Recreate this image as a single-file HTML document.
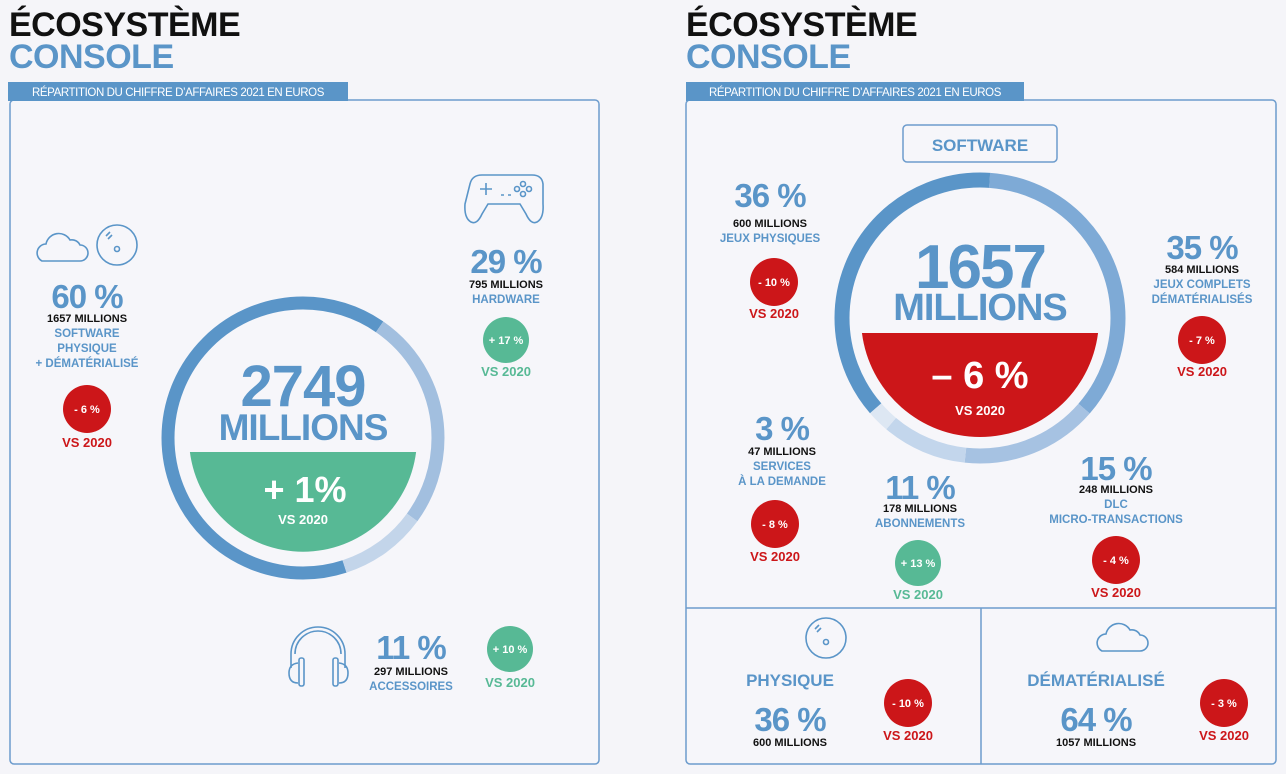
<!DOCTYPE html>
<html><head><meta charset="utf-8"><style>
html,body{margin:0;padding:0;background:#f5f5f9;}
svg{display:block;font-family:"Liberation Sans",sans-serif;font-weight:bold;}
</style></head><body>
<svg width="1286" height="774" viewBox="0 0 1286 774" xmlns="http://www.w3.org/2000/svg">
<rect width="1286" height="774" fill="#f5f5f9"/>
<!-- LEFT -->
<text x="9" y="36" font-size="34" fill="#111" letter-spacing="-0.5">ÉCOSYSTÈME</text>
<text x="9" y="68" font-size="34" fill="#5a95c8" letter-spacing="-0.5">CONSOLE</text>
<rect x="10" y="100" width="589" height="664" rx="4" fill="#f6f6fa" stroke="#6d9ccd" stroke-width="1.5"/>
<rect x="8" y="82" width="340" height="19" fill="#5a95c8"/>
<text x="178" y="96" font-size="11.5" font-weight="normal" fill="#fff" text-anchor="middle" letter-spacing="-0.4">RÉPARTITION DU CHIFFRE D’AFFAIRES 2021 EN EUROS</text>

<g fill="none" stroke-width="13" transform="rotate(-90 303 438)">
<circle cx="303" cy="438" r="135" stroke="#5a95c8" stroke-dasharray="548 300.23" stroke-dashoffset="-381.7"/>
<circle cx="303" cy="438" r="135" stroke="#a2bfdf" stroke-dasharray="215.4 632.83" stroke-dashoffset="-81.5"/>
<circle cx="303" cy="438" r="135" stroke="#c3d5ea" stroke-dasharray="84.8 763.43" stroke-dashoffset="-296.9"/>
</g>
<path d="M189.9,452 L416.1,452 A114,114 0 0 1 189.9,452 Z" fill="#57b995"/>
<g text-anchor="middle">
<text x="303" y="406" font-size="58" fill="#5a95c8" letter-spacing="-1">2749</text>
<text x="303" y="440" font-size="37" fill="#5a95c8" letter-spacing="-1">MILLIONS</text>
<text x="305" y="502" font-size="36" fill="#fff">+ 1%</text>
<text x="303" y="524" font-size="13" fill="#fff">VS 2020</text>

<text x="87" y="308" font-size="33" fill="#5a95c8" letter-spacing="-1">60 %</text>
<text x="87" y="322" font-size="11" fill="#111">1657 MILLIONS</text>
<text x="87" y="337" font-size="11.5" fill="#5a95c8">SOFTWARE</text>
<text x="87" y="352" font-size="11.5" fill="#5a95c8">PHYSIQUE</text>
<text x="87" y="367" font-size="11.5" fill="#5a95c8">+ DÉMATÉRIALISÉ</text>
<circle cx="87" cy="409" r="24" fill="#cc1619"/>
<text x="87" y="413" font-size="11" fill="#fff">- 6 %</text>
<text x="87" y="447" font-size="13" fill="#cc1619">VS 2020</text>

<text x="506" y="273" font-size="33" fill="#5a95c8" letter-spacing="-1">29 %</text>
<text x="506" y="288" font-size="11" fill="#111">795 MILLIONS</text>
<text x="506" y="303" font-size="11.5" fill="#5a95c8">HARDWARE</text>
<circle cx="506" cy="340" r="23" fill="#57b995"/>
<text x="506" y="344" font-size="11" fill="#fff">+ 17 %</text>
<text x="506" y="376" font-size="13" fill="#57b995">VS 2020</text>

<text x="411" y="659" font-size="33" fill="#5a95c8" letter-spacing="-1">11 %</text>
<text x="411" y="675" font-size="11" fill="#111">297 MILLIONS</text>
<text x="411" y="690" font-size="11.5" fill="#5a95c8">ACCESSOIRES</text>
<circle cx="510" cy="649" r="23" fill="#57b995"/>
<text x="510" y="653" font-size="11" fill="#fff">+ 10 %</text>
<text x="510" y="687" font-size="13" fill="#57b995">VS 2020</text>
</g>
<!-- icons left -->
<g fill="none" stroke="#5a95c8" stroke-width="1.6">
<path d="M42,261 h38 a8,8 0 0 0 0,-16 a9,9 0 0 0 -10,-5 a13,13 0 0 0 -24,4 a9,9 0 0 0 -4,17 z"/>
<circle cx="117" cy="245" r="20"/><circle cx="117" cy="249" r="2.5"/>
<path d="M106,236 l4,-4 M108,239 l4,-4"/>
<path d="M470,184 q2,-9 12,-9 h50 q10,0 11,9 v20 q1,14 -6,18 q-6,3 -11,-8 l-6,-10 h-32 l-6,10 q-5,11 -11,8 q-7,-4 -6,-18 z"/>
<path d="M486,183 v12 M480,189 h12"/>
<path d="M501,195 h3 M508,195 h3"/>
<circle cx="523" cy="184" r="2.5"/><circle cx="529" cy="189" r="2.5"/><circle cx="523" cy="194" r="2.5"/><circle cx="517" cy="189" r="2.5"/>
<path d="M291,668 v-14 a27,27 0 0 1 54,0 v14"/>
<path d="M295,654 a23,23 0 0 1 46,0"/>
<rect x="299" y="658" width="5" height="28" rx="2"/><rect x="333" y="658" width="5" height="28" rx="2"/>
<path d="M298,663 q-9,1 -9,10 q0,10 9,10 M339,663 q9,1 9,10 q0,10 -9,10"/>
</g>

<!-- RIGHT -->
<text x="686" y="36" font-size="34" fill="#111" letter-spacing="-0.5">ÉCOSYSTÈME</text>
<text x="686" y="68" font-size="34" fill="#5a95c8" letter-spacing="-0.5">CONSOLE</text>
<rect x="686" y="100" width="590" height="664" rx="4" fill="#f6f6fa" stroke="#6d9ccd" stroke-width="1.5"/>
<line x1="686" y1="608" x2="1276" y2="608" stroke="#6d9ccd" stroke-width="1.5"/>
<line x1="981" y1="608" x2="981" y2="764" stroke="#6d9ccd" stroke-width="1.5"/>
<rect x="686" y="82" width="338" height="19" fill="#5a95c8"/>
<text x="855" y="96" font-size="11.5" font-weight="normal" fill="#fff" text-anchor="middle" letter-spacing="-0.4">RÉPARTITION DU CHIFFRE D’AFFAIRES 2021 EN EUROS</text>
<rect x="903" y="125" width="154" height="37" rx="4" fill="none" stroke="#6d9ccd" stroke-width="1.5"/>
<text x="980" y="151" font-size="17" fill="#5a95c8" text-anchor="middle">SOFTWARE</text>

<g fill="none" stroke-width="15" transform="rotate(-90 980 318)">
<circle cx="980" cy="318" r="138" stroke="#5a95c8" stroke-dasharray="325.2 541.88" stroke-dashoffset="-551.6"/>
<circle cx="980" cy="318" r="138" stroke="#7eaad6" stroke-dasharray="305.9 561.18" stroke-dashoffset="-9.6"/>
<circle cx="980" cy="318" r="138" stroke="#a6c2e2" stroke-dasharray="132.5 734.58" stroke-dashoffset="-315.5"/>
<circle cx="980" cy="318" r="138" stroke="#c3d6ec" stroke-dasharray="81.9 785.18" stroke-dashoffset="-448"/>
<circle cx="980" cy="318" r="138" stroke="#dde7f3" stroke-dasharray="21.7 845.38" stroke-dashoffset="-529.9"/>
</g>
<path d="M861.95,333 L1098.05,333 A119,119 0 0 1 861.95,333 Z" fill="#cc1619"/>
<g text-anchor="middle">
<text x="980" y="288" font-size="62" fill="#5a95c8" letter-spacing="-2">1657</text>
<text x="980" y="320" font-size="38" fill="#5a95c8" letter-spacing="-1">MILLIONS</text>
<text x="980" y="388" font-size="38" fill="#fff">– 6 %</text>
<text x="980" y="415" font-size="13" fill="#fff">VS 2020</text>

<text x="770" y="207" font-size="33" fill="#5a95c8" letter-spacing="-1">36 %</text>
<text x="770" y="227" font-size="11" fill="#111">600 MILLIONS</text>
<text x="770" y="242" font-size="11.5" fill="#5a95c8">JEUX PHYSIQUES</text>
<circle cx="774" cy="282" r="24" fill="#cc1619"/>
<text x="774" y="286" font-size="11" fill="#fff">- 10 %</text>
<text x="774" y="318" font-size="13" fill="#cc1619">VS 2020</text>

<text x="1202" y="259" font-size="33" fill="#5a95c8" letter-spacing="-1">35 %</text>
<text x="1202" y="273" font-size="11" fill="#111">584 MILLIONS</text>
<text x="1202" y="288" font-size="11.5" fill="#5a95c8">JEUX COMPLETS</text>
<text x="1202" y="303" font-size="11.5" fill="#5a95c8">DÉMATÉRIALISÉS</text>
<circle cx="1202" cy="340" r="24" fill="#cc1619"/>
<text x="1202" y="344" font-size="11" fill="#fff">- 7 %</text>
<text x="1202" y="376" font-size="13" fill="#cc1619">VS 2020</text>

<text x="782" y="440" font-size="33" fill="#5a95c8" letter-spacing="-1">3 %</text>
<text x="782" y="455" font-size="11" fill="#111">47 MILLIONS</text>
<text x="782" y="470" font-size="11.5" fill="#5a95c8">SERVICES</text>
<text x="782" y="485" font-size="11.5" fill="#5a95c8">À LA DEMANDE</text>
<circle cx="775" cy="524" r="24" fill="#cc1619"/>
<text x="775" y="528" font-size="11" fill="#fff">- 8 %</text>
<text x="775" y="561" font-size="13" fill="#cc1619">VS 2020</text>

<text x="920" y="499" font-size="33" fill="#5a95c8" letter-spacing="-1">11 %</text>
<text x="920" y="512" font-size="11" fill="#111">178 MILLIONS</text>
<text x="920" y="527" font-size="11.5" fill="#5a95c8">ABONNEMENTS</text>
<circle cx="918" cy="563" r="23" fill="#57b995"/>
<text x="918" y="567" font-size="11" fill="#fff">+ 13 %</text>
<text x="918" y="599" font-size="13" fill="#57b995">VS 2020</text>

<text x="1116" y="480" font-size="33" fill="#5a95c8" letter-spacing="-1">15 %</text>
<text x="1116" y="493" font-size="11" fill="#111">248 MILLIONS</text>
<text x="1116" y="508" font-size="11.5" fill="#5a95c8">DLC</text>
<text x="1116" y="523" font-size="11.5" fill="#5a95c8">MICRO-TRANSACTIONS</text>
<circle cx="1116" cy="560" r="24" fill="#cc1619"/>
<text x="1116" y="564" font-size="11" fill="#fff">- 4 %</text>
<text x="1116" y="597" font-size="13" fill="#cc1619">VS 2020</text>

<text x="790" y="686" font-size="17" fill="#5a95c8">PHYSIQUE</text>
<text x="790" y="731" font-size="33" fill="#5a95c8" letter-spacing="-1">36 %</text>
<text x="790" y="746" font-size="11" fill="#111">600 MILLIONS</text>
<circle cx="908" cy="703" r="24" fill="#cc1619"/>
<text x="908" y="707" font-size="11" fill="#fff">- 10 %</text>
<text x="908" y="740" font-size="13" fill="#cc1619">VS 2020</text>

<text x="1096" y="686" font-size="17" fill="#5a95c8">DÉMATÉRIALISÉ</text>
<text x="1096" y="731" font-size="33" fill="#5a95c8" letter-spacing="-1">64 %</text>
<text x="1096" y="746" font-size="11" fill="#111">1057 MILLIONS</text>
<circle cx="1224" cy="703" r="24" fill="#cc1619"/>
<text x="1224" y="707" font-size="11" fill="#fff">- 3 %</text>
<text x="1224" y="740" font-size="13" fill="#cc1619">VS 2020</text>
</g>
<g fill="none" stroke="#5a95c8" stroke-width="1.6">
<circle cx="826" cy="638" r="20"/><circle cx="826" cy="642" r="2.5"/>
<path d="M815,629 l4,-4 M817,632 l4,-4"/>
<path d="M1102,651 h38 a8,8 0 0 0 0,-16 a9,9 0 0 0 -10,-5 a13,13 0 0 0 -24,4 a9,9 0 0 0 -4,17 z"/>
</g>
</svg>
</body></html>
